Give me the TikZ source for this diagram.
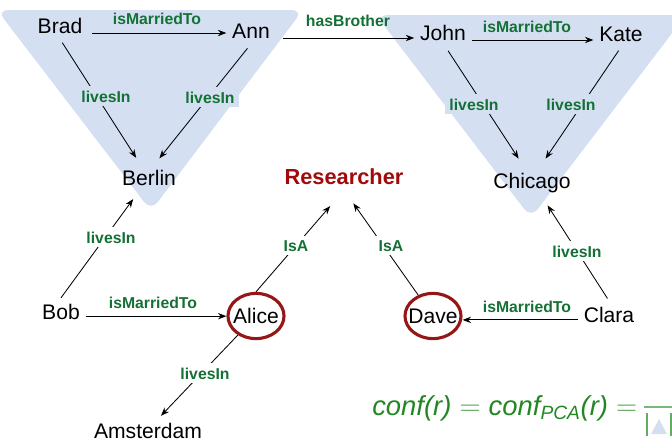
\documentclass[tikz,border=0pt]{standalone}
\usepackage{fontspec}
\setmainfont{Liberation Sans}
\usetikzlibrary{arrows.meta,calc,shapes.geometric,positioning}
\definecolor{groupBlue}{RGB}{212,224,242}
\definecolor{relGreen}{RGB}{20,112,52}
\definecolor{classRed}{RGB}{160,10,10}
\definecolor{ringRed}{RGB}{150,22,22}
\definecolor{confGreen}{RGB}{34,135,34}

\begin{document}
\begin{tikzpicture}[x=0.025cm,y=-0.025cm,
  ent/.style={font=\fontsize{15}{18}\selectfont,inner sep=4pt,anchor=base},
  cls/.style={ent,font=\fontsize{15.5}{18}\selectfont\bfseries,text=classRed},
  ring/.style={ellipse,draw=ringRed,line width=2.2pt,minimum width=1.4cm,
               minimum height=1.13cm,inner xsep=-4pt,inner ysep=0pt,
               font=\fontsize{15}{18}\selectfont},
  rel/.style={-{Stealth[length=6pt,width=4.5pt]},line width=0.6pt},
  lbl/.style={font=\fontsize{11.2}{13}\selectfont\bfseries,text=relGreen,
              inner sep=3pt,anchor=base},
  onblue/.style={fill=groupBlue},
  onwhite/.style={fill=white},
  grp/.style={fill=groupBlue,rounded corners=8pt},
  conf/.style={font=\fontsize{19.5}{23}\selectfont,text=confGreen,inner sep=0pt}
]
  \useasboundingbox (0,0) rectangle (672,441);
  \clip (0,0) rectangle (672,441);

  % groups
  \fill[grp] (-3,10) -- (303,10) -- (151,211) -- cycle;
  \fill[grp] (376,15) -- (686,15) -- (531,218) -- cycle;

  % entities
  \node[ent] (Brad)      at (60,33)   {Brad};
  \node[ent] (Ann)       at (251,38)  {Ann};
  \node[ent] (Berlin)    at (149,185) {Berlin};
  \node[ent] (John)      at (443,40)  {John};
  \node[ent] (Kate)      at (621,41)  {Kate};
  \node[ent] (Chicago)   at (532,188) {Chicago};
  \node[cls] (Researcher) at (344,184) {Researcher};
  \node[ent] (Bob)       at (61,319)  {Bob};
  \node[ring] (Alice)    at (256,316) {Alice};
  \node[ring] (Dave)     at (433,316) {Dave};
  \node[ent] (Clara)     at (609,322) {Clara};
  \node[ent] (Amsterdam) at (148,438) {Amsterdam};

  % ── relations ──
  \draw[rel,shorten <=3pt](Brad.base east)--(Brad.base east -| Ann.west);
  \draw[rel,shorten <=5pt](Ann.base east)--(Ann.base east -| John.west);
  \draw[rel](John.base east)--(John.base east -| Kate.west);
  \draw[rel]([yshift=2pt]Bob.base east)--([yshift=2pt]Bob.base east -| Alice.west);
  \draw[rel]([yshift=1.5pt]Clara.base west)--([yshift=1.5pt]Clara.base west -| Dave.east);

  \draw[rel,shorten <=3pt,shorten >=5pt](Brad.south)--($(Berlin.north)+(-9,0)$);
  \draw[rel,shorten <=4pt,shorten >=5pt](Ann.south)--($(Berlin.north)+(6,0)$);
  \draw[rel,shorten <=4pt,shorten >=7pt]($(John.south)+(2,0)$)--($(Chicago.north)+(-8,0)$);
  \draw[rel,shorten <=3pt,shorten >=7pt](Kate.south)--($(Chicago.north)+(8,0)$);
  \draw[rel,shorten >=7pt](Bob.north)--($(Berlin.south)+(-10,0)$);
  \draw[rel,shorten >=15pt](Alice.north)--(Researcher.south);
  \draw[rel,shorten >=11.5pt](Dave)--(Researcher.south);
  \draw[rel,shorten <=2pt,shorten >=6pt](Clara.north)--($(Chicago.south)+(11,0)$);
  \draw[rel,shorten >=1pt](Alice)--($(Amsterdam.north)+(12,0)$);

  % ── relation labels ──
  \node[lbl] (mBradAnn)   at (157,24)  {isMarriedTo};
  \node[lbl] (bAnnJohn)   at (348,26)  {hasBrother};
  \node[lbl] (mJohnKate)  at (527,32)  {isMarriedTo};
  \node[lbl,onblue] (lBrad) at (106,102) {livesIn};
  \node[lbl,onblue] (lAnn)  at (210,103) {livesIn};
  \node[lbl,onblue] (lJohn) at (474,110) {livesIn};
  \node[lbl,onblue] (lKate) at (571,110) {livesIn};
  \node[lbl,onwhite] (lBob)   at (111,243) {livesIn};
  \node[lbl,onwhite] (iAlice) at (296,251) {IsA};
  \node[lbl,onwhite] (iDave)  at (391,251) {IsA};
  \node[lbl,onwhite] (lClara) at (577,257) {livesIn};
  \node[lbl] (mClaraDave) at (527,312) {isMarriedTo};
  \node[lbl] (mBobAlice)  at (153,308) {isMarriedTo};
  \node[lbl,onwhite] (lAlice) at (205,379) {livesIn};

  % confidence formula
  \node[conf,anchor=base west] (Conf) at (372,415)
      {{\itshape conf(r)}\textcolor{confGreen!80}{$\;=\;$}{\itshape conf\textsubscript{PCA}(r)}\textcolor{confGreen!80}{$\;=$}};
  \draw[confGreen!60,line width=0.8pt](644,407)--(690,407);
  \draw[confGreen!70,line width=1pt](647,413)--(647,436);
  \fill[groupBlue](651,434)--(667,434)--(659,419)--cycle;
  \draw[confGreen!70,line width=1pt](671,413)--(671,436);
\end{tikzpicture}
\end{document}
